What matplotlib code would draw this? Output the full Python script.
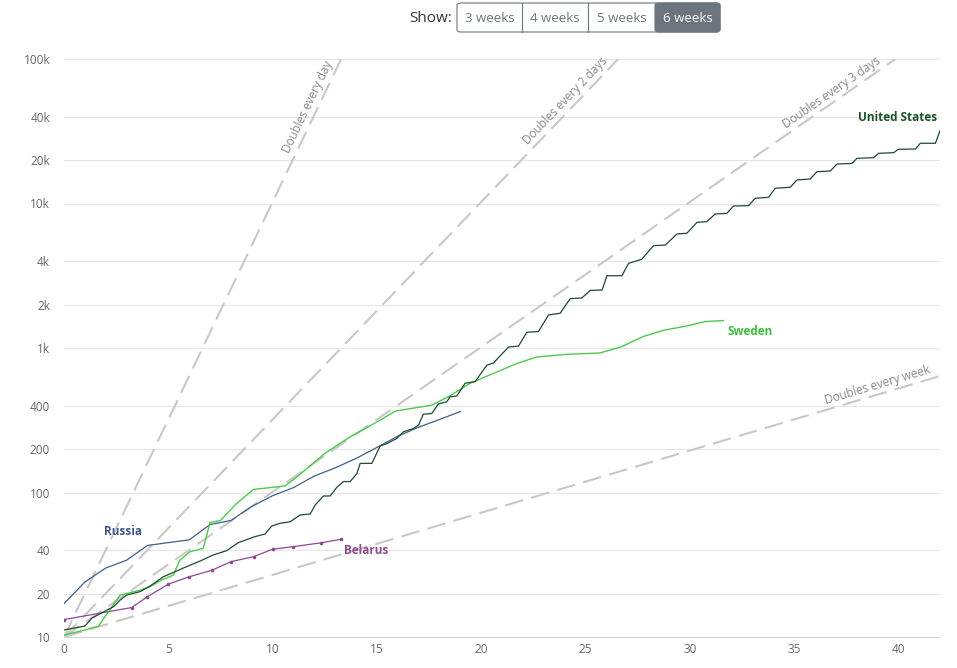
import matplotlib
matplotlib.use('Agg')
import matplotlib.pyplot as plt
from matplotlib.patches import FancyBboxPatch
import numpy as np

plt.rcParams['font.family'] = ['Open Sans', 'DejaVu Sans']

W, H = 957, 668

# days since 10th death -> cumulative deaths
us_x = [0, 1.0, 1.33, 1.81, 2.37, 2.69, 3.0, 3.65, 4.12, 4.76,
        5.32, 5.88, 6.52, 7.12, 7.8, 8.36, 9.16, 9.64, 9.96, 10.36,
        10.84, 11.32, 11.8, 12.04, 12.44, 12.76, 13.08, 13.4, 13.72, 14.04,
        14.2, 14.76, 15.16, 15.48, 15.96, 16.27, 16.75, 16.99, 17.23, 17.63,
        17.95, 18.35, 18.51, 18.83, 19.23, 19.71, 20.27, 20.59, 21.31, 21.79,
        22.19, 22.75, 23.23, 23.79, 24.27, 24.83, 25.23, 25.8, 26.03, 26.75,
        27.07, 27.7, 28.26, 28.83, 29.39, 29.86, 30.35, 30.82, 31.22, 31.78,
        32.1, 32.82, 33.14, 33.78, 34.1, 34.82, 35.14, 35.78, 36.1, 36.74,
        37.06, 37.78, 38.02, 38.82, 39.06, 39.78, 40.0, 40.82, 41.06, 41.78,
        42.0]
us_y = [11.2, 11.9, 13.5, 14.7, 16.2, 18.0, 19.5, 20.6, 22.5, 26.1,
        28.3, 30.7, 33.5, 36.8, 39.6, 45.0, 49.5, 51.6, 58.6, 61.2,
        62.7, 69.9, 70.9, 81.8, 94.6, 94.6, 108.6, 119, 119, 135,
        159, 159, 210, 218, 237, 263, 277, 292, 348, 352,
        410, 424, 460, 465, 570, 585, 760, 787, 1015, 1031,
        1285, 1300, 1693, 1740, 2195, 2220, 2505, 2520, 3163, 3163,
        3855, 4110, 5105, 5160, 6150, 6220, 7410, 7490, 8455, 8545,
        9615, 9660, 10870, 11040, 12750, 12950, 14550, 14780, 16600, 16780,
        18750, 18950, 20540, 20750, 22250, 22480, 23720, 23840, 26110, 26110,
        31900]

se_x = [0, 1.0, 1.65, 2.69, 3.0, 3.65, 4.12, 4.68, 5.24, 5.56,
        6.04, 6.68, 7.0, 7.5, 8.28, 9.08, 10.1, 10.6, 11.16, 12.52,
        13.72, 14.44, 15.16, 15.88, 17.63, 18.43, 19.47, 20.59, 21.7, 22.67,
        24.1, 25.7, 26.7, 27.8, 28.75, 29.87, 30.74, 31.62]
se_y = [10.3, 11.2, 11.9, 19.5, 20.0, 21.1, 22.3, 24.8, 26.8, 34.1,
        38.9, 41.1, 62, 64, 84, 105, 109, 111, 128, 187,
        243, 277, 317, 366, 402, 460, 570, 667, 780, 867,
        904, 924, 1017, 1205, 1326, 1422, 1524, 1548]

ru_x = list(range(20))
ru_y = [17, 24, 30, 34, 43, 45, 47, 60, 64, 80,
        95, 108, 130, 148, 172, 205, 245, 283, 320, 363]

by_x = [0, 3.25, 4.0, 5.0, 6.0, 7.1, 8.0, 9.1, 10.0, 11.0, 12.3, 13.3]
by_y = [13.2, 16.0, 19.0, 23.2, 26.1, 29.0, 33.2, 36.0, 40.5, 42.2, 44.8, 47.5]

doubling_days = [1, 2, 3, 7]
doubling_text = ['Doubles every day', 'Doubles every 2 days',
                 'Doubles every 3 days', 'Doubles every week']
doubling_label_x = [12.1, 24.35, 37.05, 39.15]

y_ticks = [10, 20, 40, 100, 200, 400, 1000, 2000, 4000,
           10000, 20000, 40000, 100000]
y_labels = ['10', '20', '40', '100', '200', '400', '1k', '2k', '4k',
            '10k', '20k', '40k', '100k']
x_ticks = [0, 5, 10, 15, 20, 25, 30, 35, 40]

weeks = ['3 weeks', '4 weeks', '5 weeks', '6 weeks']

fig = plt.figure(figsize=(W / 100, H / 100), dpi=100)
ax = fig.add_axes([64 / W, 31 / H, 876 / W, 578 / H])
ax.set_yscale('log')
ax.set_xlim(0, 42)
ax.set_ylim(10, 100000)

for v in y_ticks:
    ax.axhline(v, color='#e6e6e6', lw=0.75, zorder=0)

ax.set_yticks(y_ticks)
ax.set_yticklabels(y_labels)
ax.yaxis.set_minor_locator(matplotlib.ticker.NullLocator())
ax.set_xticks(x_ticks)
ax.tick_params(axis='y', length=0, pad=10, labelsize=8.5, labelcolor='#666666')
ax.tick_params(axis='x', length=0, pad=4, labelsize=8.5, labelcolor='#666666')
for s in ['top', 'right', 'left']:
    ax.spines[s].set_visible(False)
ax.spines['bottom'].set_color('#ccd6eb')
ax.spines['bottom'].set_linewidth(0.8)

# doubling reference lines
for d, txt, lx in zip(doubling_days, doubling_text, doubling_label_x):
    x_end = min(42, np.log2(100000 / 10) * d)
    xs = [0, x_end]
    ys = [10, 10 * 2 ** (x_end / d)]
    ax.plot(xs, ys, color='#c8c8c8', lw=1.5, ls=(0, (9, 4)), zorder=1)
    p0 = ax.transData.transform((xs[0], ys[0]))
    p1 = ax.transData.transform((xs[1], ys[1]))
    ang = np.degrees(np.arctan2(p1[1] - p0[1], p1[0] - p0[0]))
    nx, ny = -np.sin(np.radians(ang)), np.cos(np.radians(ang))
    ax.annotate(txt, (lx, 10 * 2 ** (lx / d)), xytext=(9 * nx, 9 * ny),
                textcoords='offset pixels', rotation=ang,
                rotation_mode='anchor', ha='center', va='center',
                fontsize=8.5, color='#888888', annotation_clip=False)

ax.plot(by_x, by_y, color='#8e4a8e', lw=0.9, marker='o', ms=1.6, zorder=3)
ax.plot(ru_x, ru_y, color='#3e5f88', lw=0.9, zorder=3)
ax.plot(se_x, se_y, color='#4cc94c', lw=1.0, zorder=4)
ax.plot(us_x, us_y, color='#1f4a2e', lw=0.9, zorder=5)

lab = dict(fontsize=8.5, fontweight='bold', ha='center', va='center')
ax.text(39.95, 39100, 'United States', color='#1b5326', **lab)
ax.text(32.9, 1291, 'Sweden', color='#3cbf3c', **lab)
ax.text(2.83, 53.3, 'Russia', color='#3e5a8a', **lab)
ax.text(14.48, 39.4, 'Belarus', color='#8e4b8e', **lab)

# range selector buttons at the top
def fx(px):
    return px / W


def fy(py):
    return 1 - py / H


fig.text(fx(431), fy(18), 'Show:', ha='center', va='center',
         fontsize=11, color='#333333')
edges = [457, 522, 588, 655, 720]
outer = FancyBboxPatch((fx(457), fy(32)), fx(720) - fx(457), fy(3) - fy(32),
                       boxstyle='round,pad=0,rounding_size=0.004',
                       transform=fig.transFigure, facecolor='white',
                       edgecolor='#6c757d', lw=0.8)
fig.patches.append(outer)
active = FancyBboxPatch((fx(655), fy(32)), fx(720) - fx(655), fy(3) - fy(32),
                        boxstyle='round,pad=0,rounding_size=0.004',
                        transform=fig.transFigure, facecolor='#6c757d',
                        edgecolor='#6c757d', lw=0.8)
fig.patches.append(active)
for i, w in enumerate(weeks):
    if 0 < i < 3:
        fig.add_artist(plt.Line2D([fx(edges[i]), fx(edges[i])], [fy(32), fy(3)],
                                  transform=fig.transFigure, color='#6c757d', lw=0.8))
    cx = (edges[i] + edges[i + 1]) / 2
    fig.text(fx(cx), fy(18), w, ha='center', va='center', fontsize=9.5,
             color='white' if i == 3 else '#6c757d')

fig.savefig('out.png', dpi=100)
